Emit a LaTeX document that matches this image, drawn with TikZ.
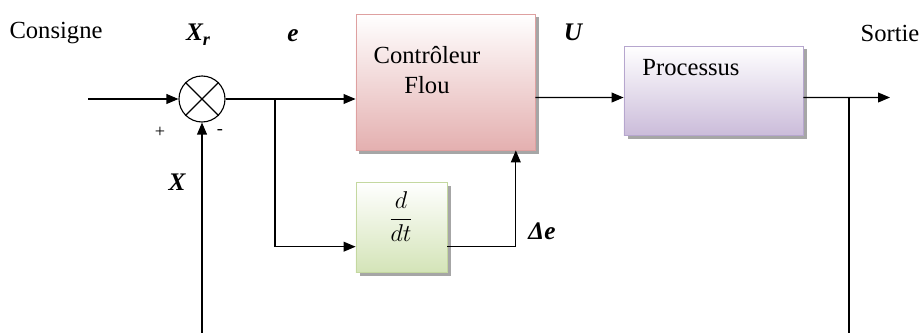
\documentclass[tikz,border=0pt]{standalone}
\usepackage{amsmath}
\usepackage{fontspec}
\setmainfont{Liberation Serif}
\usetikzlibrary{arrows.meta, positioning, calc, shadows}

\definecolor{ctrlfill}{RGB}{228,176,176}
\definecolor{ctrldraw}{RGB}{222,160,160}
\definecolor{procfill}{RGB}{203,188,218}
\definecolor{procdraw}{RGB}{182,166,206}
\definecolor{derivfill}{RGB}{212,228,184}
\definecolor{derivdraw}{RGB}{196,216,160}

\begin{document}
\begin{tikzpicture}[x=0.025cm, y=-0.025cm,
    block/.style={rectangle, draw, line width=0.6pt, inner sep=0pt, top color=white,
        drop shadow={shadow xshift=2.5pt, shadow yshift=-2.5pt, fill=black!35, opacity=1}},
    sumnode/.style={circle, draw, line width=0.8pt, minimum size=1.15cm, inner sep=0pt},
    txt/.style={font=\fontsize{17.5}{21}\selectfont},
    sig/.style={font=\fontsize{18}{21}\selectfont\bfseries\itshape},
    sgn/.style={font=\fontsize{13}{15}\selectfont},
    wire/.style={line width=0.8pt},
    arrow/.style={line width=0.8pt, -{Triangle[length=8.5pt,width=7pt]}}]
    \useasboundingbox (0,0) rectangle (924,333);

    % blocks
    \node [sumnode] (sum) at (202,99) {};
    \node [block, draw=ctrldraw, bottom color=ctrlfill, minimum width=4.475cm, minimum height=3.4cm] (ctrl) at (445.5,82) {};
    \node [block, draw=procdraw, bottom color=procfill, minimum width=4.475cm, minimum height=2.225cm] (proc) at (713.5,90.5) {};
    \node [block, draw=derivdraw, bottom color=derivfill, minimum width=2.275cm, minimum height=2.25cm] (deriv) at (401.5,227) {};
    \draw [wire] (sum.north west) -- (sum.south east);
    \draw [wire] (sum.north east) -- (sum.south west);

    % texts
    \node [txt, align=center, inner sep=0pt] (ctrltxt) at (427,70) {Contrôleur\\Flou};
    \node [txt] (proctxt) at (691,68) {Processus};
    \node [font=\fontsize{18}{21}\selectfont] (derivtxt) at (401,217) {$\dfrac{d}{dt}$};
    \node [txt] (consigne) at (56,33) {Consigne};
    \node [txt] (sortie) at (890,33) {Sortie};
    \node [sig] (xr) at (198,35) {X\raisebox{-0.45ex}{\fontsize{13}{15}\selectfont r}};
    \node [sig] (err) at (293,36) {e};
    \node [sig] (cmd) at (573,32) {U};
    \node [sig] (meas) at (177,182) {X};
    \node [sig] (derr) at (542,231) {Δe};
    \node [sgn] (plus) at (160,132) {+};
    \node [sgn] (minus) at (220,132) {-};

    % connections
    \coordinate (in) at (88,99);
    \coordinate (br) at (275,99);
    \coordinate (out) at (890,97.5);
    \coordinate (tap) at (849,97.5);
    \coordinate (fbR) at (849,333);
    \coordinate (fbL) at (202,333);
    \draw [arrow] (in) -- (sum.west);
    \draw [arrow] (sum.east) -- (sum.east -| ctrl.west);
    \draw [arrow] (br) |- ([yshift=-14pt]deriv.west);
    \draw [arrow] ([yshift=-14pt]deriv.east) -| ([xshift=50pt]ctrl.south);
    \draw [arrow] ([yshift=-11pt]ctrl.east) -- ([yshift=-5pt]proc.west);
    \draw [arrow] ([yshift=-5pt]proc.east) -- (out);
    \draw [wire] (tap) -- (fbR);
    \draw [arrow] (fbL) -- (sum.south);
\end{tikzpicture}
\end{document}
